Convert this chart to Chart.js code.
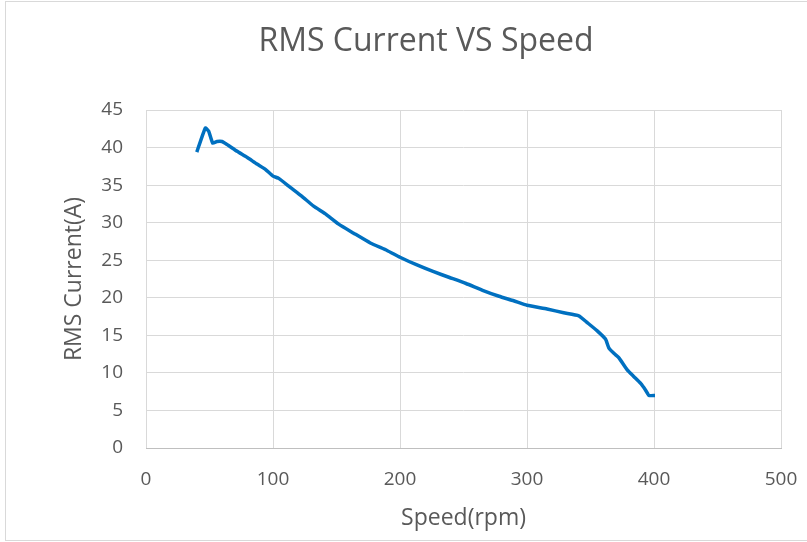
<!DOCTYPE html>
<html>
<head>
<meta charset="utf-8">
<script src="https://cdn.jsdelivr.net/npm/chart.js@4/dist/chart.umd.min.js"></script>
<style>
	html, body { margin: 0; padding: 0; background: #ffffff; }
	#wrap { width: 807px; height: 542px; }
</style>
</head>
<body>
<div id="wrap"><canvas id="rmsChart" width="807" height="542"></canvas></div>
<script>
// Values
const speedRpm = [40, 46.7, 49.3, 52.5, 55.9, 59.8, 63.8, 71.7, 79.5, 87.4, 94, 100, 104.5, 113.6, 122.8, 132, 141, 151.7, 163.5, 176.6, 189.8, 200, 212.9, 226, 239, 252, 265, 278, 289.5, 300, 315.8, 328.9, 340.8, 347.4, 355.3, 361.8, 364.5, 368.4, 372.4, 378.9, 384.2, 389.5, 393.4, 396, 400.8];
const rmsCurrent = [39.4, 42.6, 42.2, 40.6, 40.8, 40.8, 40.4, 39.5, 38.7, 37.8, 37.1, 36.2, 35.9, 34.7, 33.5, 32.2, 31.2, 29.8, 28.6, 27.3, 26.3, 25.4, 24.4, 23.5, 22.7, 21.9, 21.0, 20.2, 19.6, 19.0, 18.5, 18.0, 17.6, 16.7, 15.6, 14.5, 13.3, 12.6, 12.0, 10.4, 9.5, 8.6, 7.7, 7.0, 7.0];
const xTicks = [0, 100, 200, 300, 400, 500];
const yTicks = [0, 5, 10, 15, 20, 25, 30, 35, 40, 45];

const chartTitle = 'RMS Current VS Speed';
const xTitle = 'Speed(rpm)';
const yTitle = 'RMS Current(A)';

const textColor = '#595959';
const gridColor = '#d9d9d9';
const fontFamily = '"Open Sans", "Noto Sans", sans-serif';

// Frame round the chart and the title, drawn like the spreadsheet does it
const framePlugin = {
	id: 'frame',
	beforeDraw(chart) {
		const ctx = chart.ctx;
		ctx.save();
		ctx.strokeStyle = gridColor;
		ctx.lineWidth = 1;
		ctx.strokeRect(5.5, 1.5, 900, 539);
		ctx.restore();
	},
	afterDraw(chart) {
		const ctx = chart.ctx;
		ctx.save();
		ctx.fillStyle = textColor;
		ctx.font = '32px ' + fontFamily;
		ctx.textAlign = 'center';
		ctx.textBaseline = 'middle';
		ctx.fillText(chartTitle, 426, 42);
		ctx.restore();
	}
};

const points = speedRpm.map((s, i) => ({ x: s, y: rmsCurrent[i] }));

new Chart(document.getElementById('rmsChart'), {
	type: 'line',
	data: {
		datasets: [{
			label: yTitle,
			data: points,
			borderColor: '#0070c0',
			borderWidth: 3.5,
			pointRadius: 0,
			tension: 0.15,
			fill: false
		}]
	},
	options: {
		responsive: false,
		animation: false,
		layout: { padding: { left: 50, right: 26, top: 110, bottom: 0 } },
		plugins: {
			legend: { display: false },
			tooltip: { enabled: false }
		},
		scales: {
			x: {
				type: 'linear',
				min: 0,
				max: 500,
				afterBuildTicks: s => { s.ticks = xTicks.map(v => ({ value: v })); },
				afterFit: s => { s.height = 94; s.paddingLeft = 0; s.paddingRight = 0; },
				grid: { color: gridColor, drawTicks: false },
				border: { color: '#bfbfbf' },
				ticks: { color: textColor, padding: 20, font: { family: fontFamily, size: 19 } },
				title: {
					display: true,
					text: xTitle,
					color: textColor,
					padding: { top: 0, bottom: 10 },
					font: { family: fontFamily, size: 23 }
				}
			},
			y: {
				min: 0,
				max: 45,
				afterBuildTicks: s => { s.ticks = yTicks.map(v => ({ value: v })); },
				afterFit: s => { s.width = 96; s.paddingTop = 0; s.paddingBottom = 0; },
				grid: { color: gridColor, drawTicks: false },
				border: { display: false },
				ticks: { color: textColor, padding: 23, font: { family: fontFamily, size: 19 } },
				title: {
					display: true,
					text: yTitle,
					color: textColor,
					padding: { top: 11, bottom: 0 },
					font: { family: fontFamily, size: 23 }
				}
			}
		}
	},
	plugins: [framePlugin]
});
</script>
</body>
</html>
